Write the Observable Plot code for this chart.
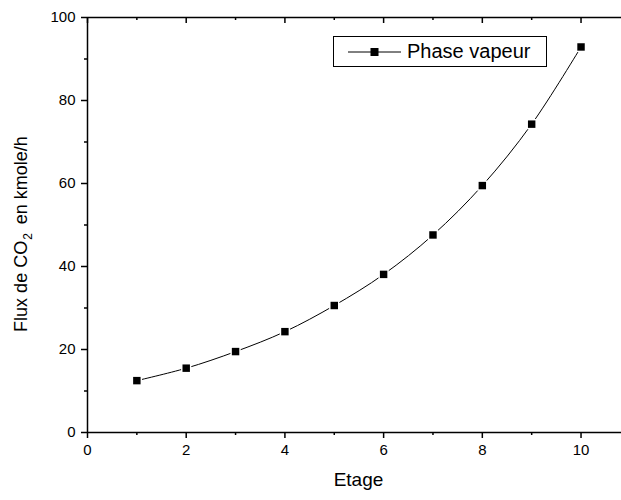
<!DOCTYPE html>
<html><head><meta charset="utf-8">
<script src="https://cdn.jsdelivr.net/npm/d3@7"></script>
<script src="https://cdn.jsdelivr.net/npm/@observablehq/plot@0.6"></script>
<style>
body{margin:0;background:#fff;font-family:Arial,"Liberation Sans",sans-serif}
#wrap{position:relative;width:621px;height:500px;overflow:hidden}
#legend{position:absolute;left:333px;top:36px;width:212px;height:29px;border:1px solid #000;background:#fff;display:flex;align-items:center;font-size:20px;color:#000}
#legend svg{margin-left:14px;margin-right:6px}
</style>
</head><body><div id="wrap"></div>
<script>
const etage = [1, 2, 3, 4, 5, 6, 7, 8, 9, 10];
const flux = [12.5, 15.5, 19.5, 24.3, 30.6, 38.1, 47.6, 59.5, 74.3, 92.9];
const xTicks = [0, 2, 4, 6, 8, 10];
const xMinor = [1, 3, 5, 7, 9];
const yTicks = [0, 20, 40, 60, 80, 100];
const yMinor = [10, 30, 50, 70, 90];
const seriesName = "Phase vapeur";
const xLabel = "Etage";

const data = etage.map((e, i) => ({etage: e, flux: flux[i]}));

const plot = Plot.plot({
  width: 621, height: 500,
  marginLeft: 87, marginRight: 0, marginTop: 17, marginBottom: 68,
  style: {fontFamily: "Arial, 'Liberation Sans', sans-serif", fontSize: "15px", color: "#000", background: "#fff"},
  x: {domain: [0, 10.82]},
  y: {domain: [0, 100]},
  marks: [
    Plot.axisX({ticks: xTicks, tickSize: 6, tickPadding: 6, label: null, strokeWidth: 1.5, fontSize: 15}),
    Plot.axisX({ticks: xMinor, tickSize: 3, text: null, label: null, strokeWidth: 1.5}),
    Plot.ruleX(xTicks, {x: d => d, y1: 100, y2: 100, insetBottom: -6, strokeWidth: 1.5}),
    Plot.ruleX(xMinor, {x: d => d, y1: 100, y2: 100, insetBottom: -3, strokeWidth: 1.5}),
    Plot.axisY({ticks: yTicks, tickSize: 6, tickPadding: 6, label: null, strokeWidth: 1.5, fontSize: 15}),
    Plot.axisY({ticks: yMinor, tickSize: 3, text: null, label: null, strokeWidth: 1.5}),
    Plot.ruleY([0], {strokeWidth: 1.5}),
    Plot.ruleY([100], {strokeWidth: 1.5}),
    Plot.ruleX([0], {strokeWidth: 1.5}),
    Plot.line(data, {x: "etage", y: "flux", curve: "catmull-rom", stroke: "#000", strokeWidth: 1}),
    Plot.dot(data, {x: "etage", y: "flux", symbol: "square", r: 5.8, fill: "#fff", stroke: "none"}),
    Plot.dot(data, {x: "etage", y: "flux", symbol: "square", r: 4.2, fill: "#000", stroke: "none"}),
    Plot.text([xLabel], {frameAnchor: "bottom", dx: 4, dy: 53, fontSize: 19, text: d => d}),
    Plot.text(["ylabel"], {frameAnchor: "left", textAnchor: "middle", dx: -66, dy: 9, rotate: -90, fontSize: 18, text: d => d, className: "ylab"})
  ]
});
document.getElementById("wrap").appendChild(plot);
const yl = plot.querySelector(".ylab text");
if (yl) {
  yl.textContent = "";
  const ns = "http://www.w3.org/2000/svg";
  const parts = [["Flux de CO", null], ["2", "sub"], ["en kmole/h", "after"]];
  for (const [t, k] of parts) {
    const ts = document.createElementNS(ns, "tspan");
    ts.textContent = t;
    if (k === "sub") { ts.setAttribute("font-size", "12"); ts.setAttribute("dy", "5"); ts.setAttribute("dx", "1"); }
    else if (k === "after") { ts.setAttribute("dy", "-5"); ts.setAttribute("dx", "9"); }
    yl.appendChild(ts);
  }
}
const lg = document.createElement("div");
lg.id = "legend";
lg.innerHTML = '<svg width="53" height="12"><line x1="0" x2="53" y1="6" y2="6" stroke="#000" stroke-width="1"/><rect x="22.5" y="2" width="8" height="8" fill="#000"/></svg><span></span>';
lg.querySelector("span").textContent = seriesName;
document.getElementById("wrap").appendChild(lg);
</script>
</body></html>
